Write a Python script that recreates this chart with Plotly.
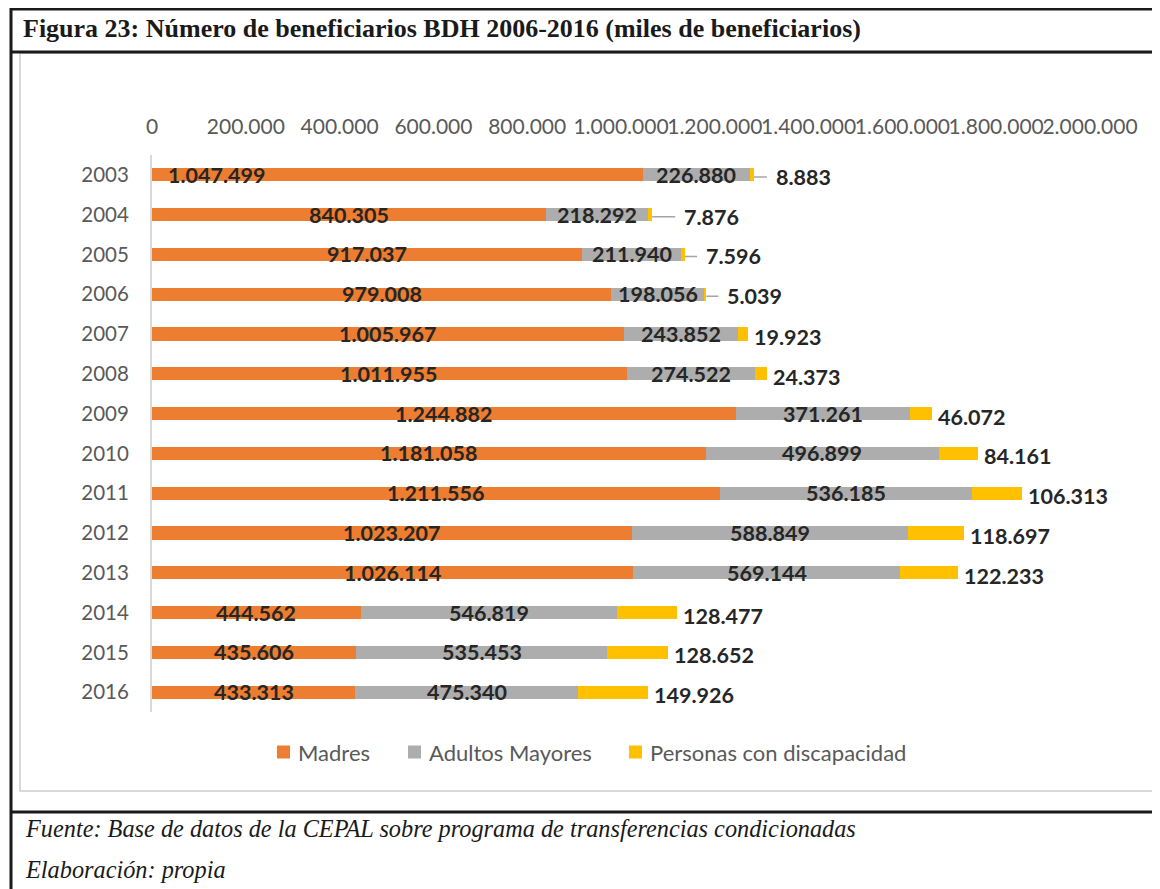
import plotly.graph_objects as go

# ---------------- data ----------------
years = ["2003", "2004", "2005", "2006", "2007", "2008", "2009",
         "2010", "2011", "2012", "2013", "2014", "2015", "2016"]
madres = [1047499, 840305, 917037, 979008, 1005967, 1011955, 1244882,
          1181058, 1211556, 1023207, 1026114, 444562, 435606, 433313]
adultos = [226880, 218292, 211940, 198056, 243852, 274522, 371261,
           496899, 536185, 588849, 569144, 546819, 535453, 475340]
discapacidad = [8883, 7876, 7596, 5039, 19923, 24373, 46072,
                84161, 106313, 118697, 122233, 128477, 128652, 149926]
series_names = ["Madres", "Adultos Mayores", "Personas con discapacidad"]

title_text = "Figura 23: Número de beneficiarios BDH 2006-2016 (miles de beneficiarios)"
source_text = "Fuente: Base de datos de la CEPAL sobre programa de transferencias condicionadas"
credit_text = "Elaboración: propia"

# ---------------- style ----------------
COLORS = ["#ED7D31", "#ADADAD", "#FFC000"]
AXIS_TXT = "#595959"
LABEL_TXT = "#262626"
FONT = "Lato"

# page has an 8px body margin: figure occupies page (8..1160, 8..889)
W, H = 1152, 881
ML, MR, MT, MB = 144, 70, 147, 177
PLOT_X0, PLOT_X1 = 152, 1090     # page coords of plot area
PLOT_Y0, PLOT_Y1 = 155, 712


def px(x):
    return (x - PLOT_X0) / (PLOT_X1 - PLOT_X0)


def py(y):
    return (PLOT_Y1 - y) / (PLOT_Y1 - PLOT_Y0)


def fmt(v):
    return f"{v:,}".replace(",", ".")


fig = go.Figure()
for name, vals, col in zip(series_names, [madres, adultos, discapacidad], COLORS):
    fig.add_trace(go.Bar(
        y=years, x=vals, name=name, orientation="h",
        marker=dict(color=col, line=dict(width=0)),
        hoverinfo="skip", showlegend=False,
    ))

annotations = []
label_font = dict(family=FONT, size=21.5, color=LABEL_TXT)
# leader-line lengths (px) for the small labels of the first years
leader_px = {"2003": 13, "2004": 23, "2005": 12, "2006": 12}

for i, yr in enumerate(years):
    m, a, d = madres[i], adultos[i], discapacidad[i]
    if yr == "2003":
        annotations.append(dict(x=0, y=i, text="<b>%s</b>" % fmt(m), showarrow=False,
                                xanchor="left", xshift=14, font=label_font))
    else:
        annotations.append(dict(x=m / 2, y=i, text="<b>%s</b>" % fmt(m), showarrow=False,
                                xanchor="center", font=label_font))
    annotations.append(dict(x=m + a / 2, y=i, text="<b>%s</b>" % fmt(a), showarrow=False,
                            xanchor="center", font=label_font))
    total = m + a + d
    if yr in leader_px:
        annotations.append(dict(x=total, y=i, text="<b>%s</b>" % fmt(d),
                                showarrow=True, arrowhead=0, arrowwidth=1.5,
                                arrowcolor="#A5A5A5", ax=leader_px[yr], ay=0, yshift=-2,
                                xanchor="left", borderpad=8, font=label_font))
    else:
        annotations.append(dict(x=total, y=i, text="<b>%s</b>" % fmt(d), showarrow=False,
                                xanchor="left", xshift=4, yshift=-3, font=label_font))

# manual legend
legend_sq_x = [277, 408, 629]
LEG_Y = 752
shapes = []
for name, col, sx in zip(series_names, COLORS, legend_sq_x):
    shapes.append(dict(type="rect", xref="paper", yref="paper",
                       x0=px(sx), x1=px(sx + 13), y0=py(LEG_Y - 6.5), y1=py(LEG_Y + 6.5),
                       fillcolor=col, line=dict(width=0)))
    annotations.append(dict(xref="paper", yref="paper", x=px(sx + 19), y=py(LEG_Y),
                            text=name, showarrow=False, xanchor="left", yanchor="middle",
                            font=dict(family=FONT, size=22, color=AXIS_TXT)))

# Title & footer
annotations.append(dict(xref="paper", yref="paper", x=px(21), y=py(29),
                        text="<b>%s</b>" % title_text, showarrow=False,
                        xanchor="left", yanchor="middle",
                        font=dict(family="Liberation Serif", size=26, color="#1a1a1a")))
annotations.append(dict(xref="paper", yref="paper", x=px(23), y=py(828),
                        text="<i>%s</i>" % source_text, showarrow=False,
                        xanchor="left", yanchor="middle",
                        font=dict(family="Liberation Serif", size=24.3, color="#1a1a1a")))
annotations.append(dict(xref="paper", yref="paper", x=px(23), y=py(869),
                        text="<i>%s</i>" % credit_text, showarrow=False,
                        xanchor="left", yanchor="middle",
                        font=dict(family="Liberation Serif", size=24.3, color="#1a1a1a")))

shapes += [
    dict(type="rect", xref="paper", yref="paper", x0=px(20), x1=px(1154), y0=py(53), y1=py(791),
         line=dict(color="#D9D9D9", width=2), layer="below"),
    dict(type="line", xref="paper", yref="paper", x0=px(10), x1=px(1170), y0=py(9), y1=py(9),
         line=dict(color="#1a1a1a", width=3)),
    dict(type="line", xref="paper", yref="paper", x0=px(11), x1=px(11), y0=py(8), y1=py(900),
         line=dict(color="#1a1a1a", width=3)),
    dict(type="line", xref="paper", yref="paper", x0=px(10), x1=px(1170), y0=py(52), y1=py(52),
         line=dict(color="#1a1a1a", width=3)),
    dict(type="line", xref="paper", yref="paper", x0=px(10), x1=px(1170), y0=py(812), y1=py(812),
         line=dict(color="#1a1a1a", width=3)),
]

fig.update_layout(
    width=W, height=H,
    barmode="stack",
    bargap=0.67,
    separators=",.",
    margin=dict(l=ML, r=MR, t=MT, b=MB, pad=0),
    paper_bgcolor="white",
    plot_bgcolor="rgba(0,0,0,0)",
    font=dict(family=FONT, color=AXIS_TXT),
    showlegend=False,
    annotations=annotations,
    shapes=shapes,
    xaxis=dict(
        side="top", range=[0, 2000000], dtick=200000, tick0=0,
        tickformat=",d", showgrid=False, zeroline=False, showline=False,
        ticks="", tickangle=0, ticklabelstandoff=16,
        tickfont=dict(family=FONT, size=21, color=AXIS_TXT),
    ),
    yaxis=dict(
        type="category", categoryorder="array", categoryarray=years,
        range=[len(years) - 0.5, -0.5], autorange=False,
        showgrid=False, zeroline=False,
        showline=True, linecolor="#D9D9D9", linewidth=2, ticks="",
        ticklabelstandoff=17,
        tickfont=dict(family=FONT, size=20.5, color=AXIS_TXT),
    ),
)

fig.write_html("out.html")
